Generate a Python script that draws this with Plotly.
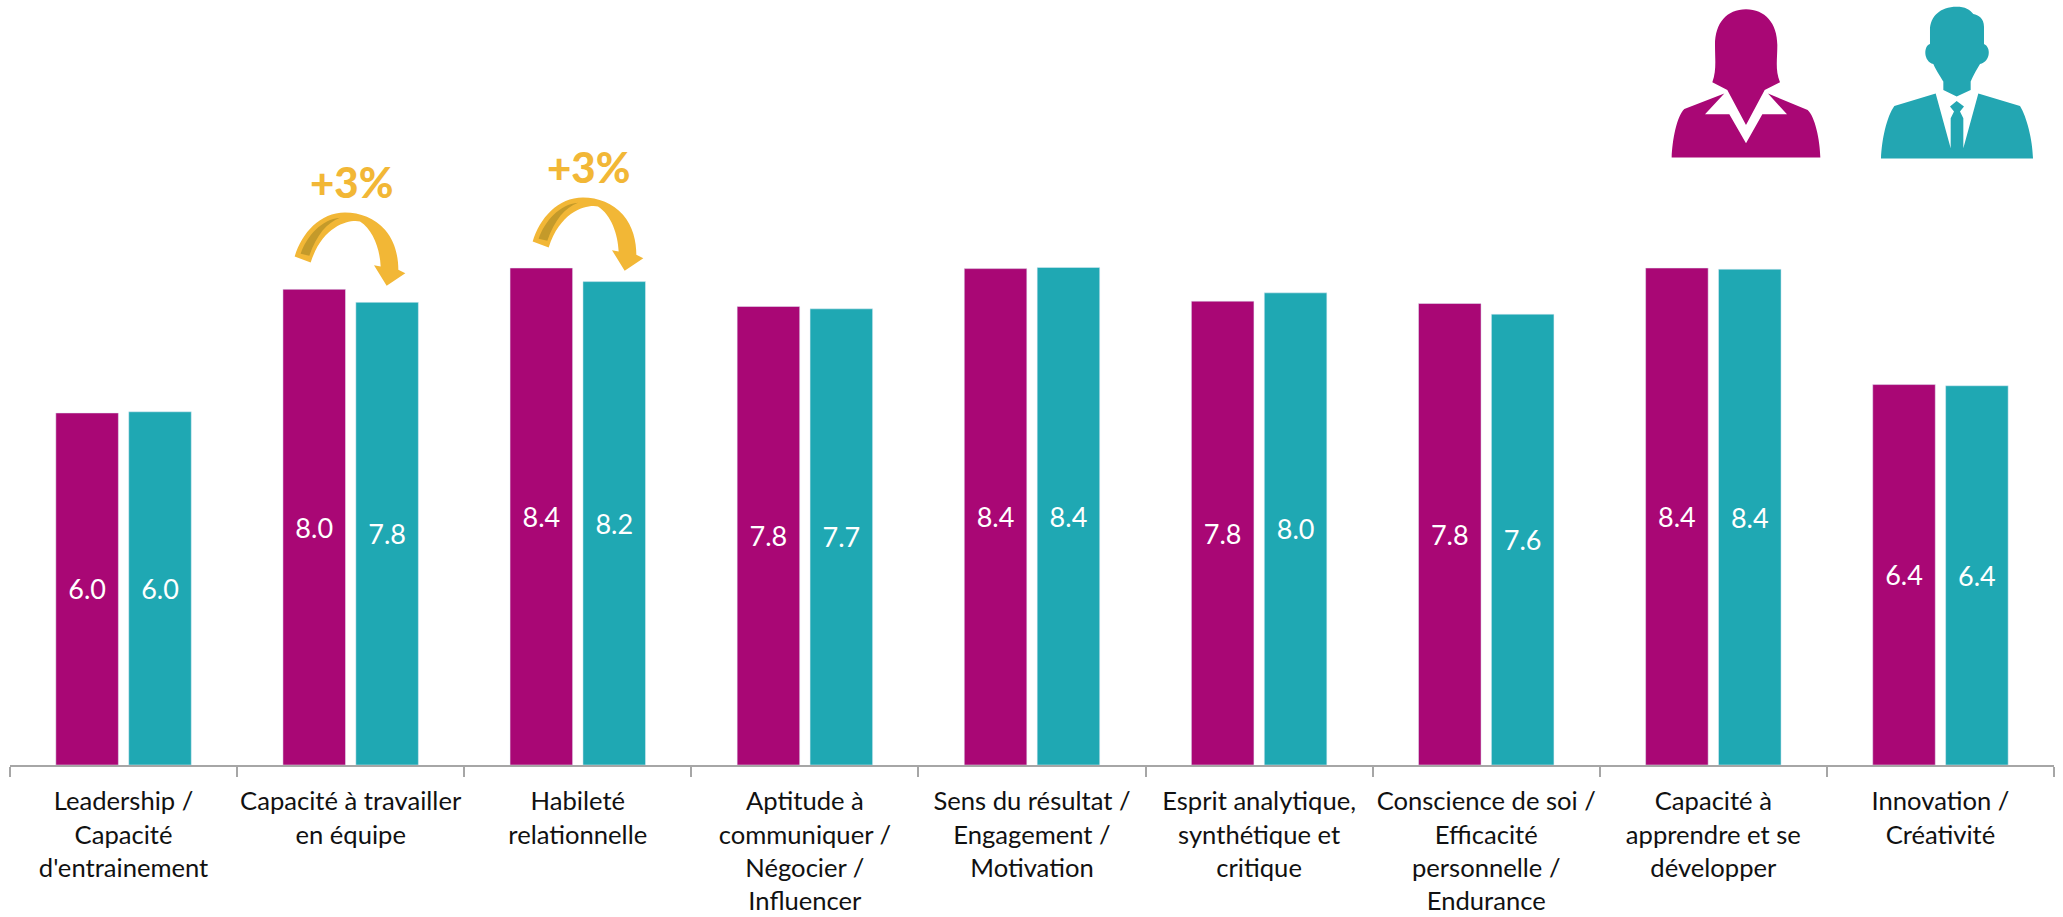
import re

import plotly.graph_objects as go

WIDTH = 2063
HEIGHT = 917
LEFT = 10
RIGHT = 9
BOTTOM = 151.5

categories = [
    "Leadership /<br>Capacité<br>d'entrainement",
    "Capacité à travailler<br>en équipe",
    "Habileté<br>relationnelle",
    "Aptitude à<br>communiquer /<br>Négocier /<br>Influencer",
    "Sens du résultat /<br>Engagement /<br>Motivation",
    "Esprit analytique,<br>synthétique et<br>critique",
    "Conscience de soi /<br>Efficacité<br>personnelle /<br>Endurance",
    "Capacité à<br>apprendre et se<br>développer",
    "Innovation /<br>Créativité",
]
women = [5.95, 8.04, 8.40, 7.75, 8.39, 7.84, 7.80, 8.40, 6.43]
men = [5.97, 7.82, 8.17, 7.71, 8.41, 7.98, 7.62, 8.38, 6.41]

MAGENTA = "#A90775"
TEAL = "#1FA8B3"
GOLD = "#F2B736"
GOLD_DARK = "#C49A2A"

# decorations (zoomed crop coordinates)
WOMAN_HEAD = "M318,28 C260,28 225,70 225,135 C225,180 230,210 217,247 L262,270 L318,375 L374,270 L420,247 C405,210 412,180 412,135 C412,70 375,28 318,28 Z"
WOMAN_BODY = "M95,473 C97,420 110,350 133,327 L253,281 L195,343 L268,343 L318,430 L367,343 L441,343 L384,281 L503,330 C525,350 540,420 541,473 Z"
MAN_HEAD = "M950,20 C900,20 870,50 870,90 L870,132 C850,137 850,185 880,192 C890,215 908,240 910,245 L910,270 L950,290 L992,270 L992,245 C1000,225 1012,205 1020,192 C1053,185 1053,140 1032,132 L1032,80 C1032,55 1015,45 1000,42 C990,28 975,20 950,20 Z"
MAN_BODY = "M723,476 C725,420 740,350 763,318 L887,281 L932,445 L932,355 L942,335 L930,320 L950,303 L972,320 L960,335 L970,355 L970,445 L1015,281 L1140,318 C1160,350 1178,420 1179,476 Z"
ARROW = "M104,350 C125,280 180,218 255,218 C300,218 345,235 375,270 C405,305 415,350 415,390 L436,400 L380,438 L342,376 L362,380 C360,330 340,270 300,245 C275,238 190,250 152,368 Z"
ARROW_SHADE = "M122,342 C140,290 185,238 240,234 C200,250 170,285 148,348 Z"


def to_paper(px, py):
    return (px - LEFT) / (WIDTH - LEFT - RIGHT), (HEIGHT - BOTTOM - py) / (HEIGHT - BOTTOM)


def crop_path(d, ox, oy):
    def repl(m):
        x, y = to_paper(ox + float(m.group(1)) / 3, oy + float(m.group(2)) / 3)
        return f"{x:.5f},{y:.5f}"

    return re.sub(r"(-?[\d.]+),(-?[\d.]+)", repl, d)


def deco(d, ox, oy, color):
    return dict(
        type="path",
        xref="paper",
        yref="paper",
        path=crop_path(d, ox, oy),
        fillcolor=color,
        line=dict(width=0),
        layer="above",
    )


fig = go.Figure()
fig.add_bar(
    x=categories,
    y=women,
    name="Femmes",
    marker_color=MAGENTA,
    text=[f"{v:.1f}" for v in women],
)
fig.add_bar(
    x=categories,
    y=men,
    name="Hommes",
    marker_color=TEAL,
    text=[f"{v:.1f}" for v in men],
)
fig.update_traces(
    textposition="inside",
    insidetextanchor="middle",
    textangle=0,
    textfont=dict(family="Lato", size=27, color="white"),
    hoverinfo="skip",
)

shapes = [
    deco(WOMAN_HEAD, 1640, 0, MAGENTA),
    deco(WOMAN_BODY, 1640, 0, MAGENTA),
    deco(MAN_HEAD, 1640, 0, "#23A6B2"),
    deco(MAN_BODY, 1640, 0, "#23A6B2"),
    deco(ARROW, 260, 140, GOLD),
    deco(ARROW_SHADE, 260, 140, GOLD_DARK),
    deco(ARROW, 498, 125, GOLD),
    deco(ARROW_SHADE, 498, 125, GOLD_DARK),
]

annotations = []
for px, py in [(351, 182), (588, 167)]:
    ax, ay = to_paper(px, py)
    annotations.append(
        dict(
            x=ax,
            y=ay,
            xref="paper",
            yref="paper",
            text="+3%",
            showarrow=False,
            xanchor="center",
            yanchor="middle",
            font=dict(family="Lato", size=42, color=GOLD, weight=900),
        )
    )

fig.update_layout(
    width=WIDTH,
    height=HEIGHT,
    margin=dict(l=LEFT, r=RIGHT, t=0, b=BOTTOM, pad=0, autoexpand=False),
    paper_bgcolor="white",
    plot_bgcolor="white",
    barmode="group",
    bargap=0.358,
    bargroupgap=0.142,
    showlegend=False,
    shapes=shapes,
    annotations=annotations,
    font=dict(family="Lato", color="#111111"),
)
fig.update_xaxes(
    type="category",
    automargin=False,
    tickson="boundaries",
    ticks="outside",
    ticklen=10,
    tickwidth=1.5,
    tickcolor="#A6A6A6",
    showline=True,
    linecolor="#A6A6A6",
    linewidth=1.5,
    showgrid=False,
    tickangle=0,
    ticklabelstandoff=13,
    tickfont=dict(family="Lato", size=25.6, color="#111111"),
)
fig.update_yaxes(range=[0, 12.93], visible=False, showgrid=False, zeroline=False)

fig.write_html(
    "out.html",
    config={"displayModeBar": False},
    post_script="document.body.style.margin='0';",
)
